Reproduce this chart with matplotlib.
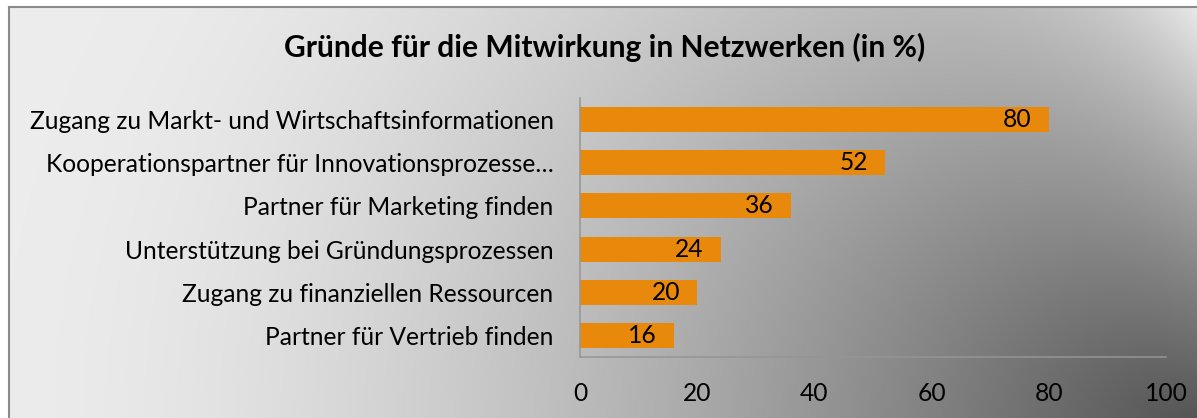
import numpy as np
import matplotlib
matplotlib.use("Agg")
from matplotlib import pyplot as plt

categories = [
    "Zugang zu Markt- und Wirtschaftsinformationen",
    "Kooperationspartner für Innovationsprozesse…",
    "Partner für Marketing finden",
    "Unterstützung bei Gründungsprozessen",
    "Zugang zu finanziellen Ressourcen",
    "Partner für Vertrieb finden",
]
values = [80, 52, 36, 24, 20, 16]
x_ticks = [0, 20, 40, 60, 80, 100]
title = "Gründe für die Mitwirkung in Netzwerken (in %)"

plt.rcParams['font.family'] = ['Lato', 'DejaVu Sans']

W, H = 1197, 418
fig = plt.figure(figsize=(W / 100, H / 100), dpi=100)

# grey background: dark towards bottom right, light glow at top right edge
yy, xx = np.mgrid[0:H, 0:W].astype(float)
d = np.sqrt(((W - xx) / W) ** 2 + ((H - yy) / 1000) ** 2).clip(0, 1)
shade = 236 - 162 * (1 - d) ** 1.64
glow = np.exp(-(W - xx) / 130) * np.exp(-yy / 160)
shade = shade + (236 - shade) * glow
shade[:6, :] = 255
shade[:, :8] = 255
img = np.dstack([shade] * 3) / 255

bg = fig.add_axes([0, 0, 1, 1])
bg.imshow(img, extent=(0, W, H, 0), aspect='auto', interpolation='bilinear')
bg.plot([8.5, 8.5], [H, 6.5], color='#8a8a8a', lw=1.5)
bg.plot([8.5, W], [6.5, 6.5], color='#8a8a8a', lw=1.5)
bg.set_xlim(0, W)
bg.set_ylim(H, 0)
bg.axis('off')

ax = fig.add_axes([580 / W, 1 - 357 / H, (1166 - 580) / W, (357 - 98) / H])
ax.patch.set_visible(False)

fs = 17.7
pos = np.arange(len(categories))
ax.barh(pos, values, height=0.58, color='#E8890C')
for p, v in zip(pos, values):
    ax.annotate(str(v), xy=(v, p), xytext=(-12.2, 0), textcoords='offset points',
                ha='right', va='center', fontsize=fs, color='black')

ax.set_xlim(0, 100)
ax.set_ylim(len(categories) - 0.5, -0.5)
ax.set_yticks(pos, categories)
ax.set_xticks(x_ticks)
ax.tick_params(axis='y', length=0, pad=19, labelsize=fs)
ax.tick_params(axis='x', length=0, pad=18, labelsize=fs)

for side in ['top', 'right']:
    ax.spines[side].set_visible(False)
for side in ['left', 'bottom']:
    ax.spines[side].set_color('#959595')
    ax.spines[side].set_linewidth(1.1)

fig.text(605 / W, 1 - 57 / H, title, ha='center', va='baseline',
         fontsize=21.6, fontweight='bold')

fig.savefig('out.png', dpi=100)
